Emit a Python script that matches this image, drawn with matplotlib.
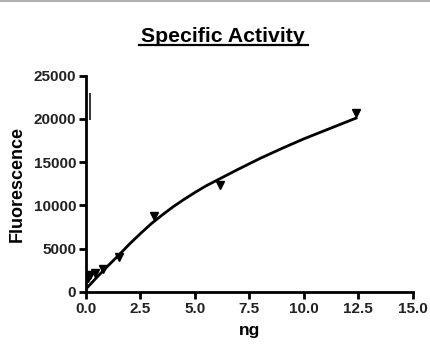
import matplotlib
matplotlib.use('Agg')
import matplotlib.pyplot as plt
from matplotlib.lines import Line2D
from matplotlib.patches import Rectangle

plt.rcParams['font.family'] = ['Liberation Sans', 'DejaVu Sans']
plt.rcParams['font.weight'] = 'bold'

# measured points (ng, fluorescence)
ng = [0.1, 0.2, 0.4, 0.78, 1.5, 3.1, 6.15, 12.4]
fluor = [1600, 2000, 2200, 2650, 4000, 8750, 12350, 20650]

# fitted curve as drawn in the reference
fit_ng = [0, 0.5, 1, 1.5, 2, 2.5, 3, 3.5, 4, 4.5, 5, 5.5, 6, 7, 8, 9, 10, 11, 12, 12.4]
fit_fluor = [350, 1700, 3000, 4250, 5550, 6750, 7900, 8900, 9850, 10700, 11500,
             12250, 12900, 14200, 15450, 16600, 17700, 18700, 19700, 20100]

# stray vertical bar near the y axis
bar_x = [0.2]
bar_lo = [19850]
bar_hi = [22950]

x_ticks = [0.0, 2.5, 5.0, 7.5, 10.0, 12.5, 15.0]
y_ticks = [0, 5000, 10000, 15000, 20000, 25000]

fig = plt.figure(figsize=(4.31, 3.58), dpi=100)
ax = fig.add_axes([0.1995, 0.1844, 0.758, 0.6041])

ax.plot(fit_ng, fit_fluor, color='black', lw=2, zorder=3)
ax.plot(ng, fluor, linestyle='none', marker='v', color='black',
        markersize=6, zorder=4)
ax.vlines(bar_x, bar_lo, bar_hi, color='black', lw=1.1)

ax.set_xlim(0, 15)
ax.set_ylim(0, 25000)
ax.set_xticks(x_ticks)
ax.set_xticklabels([f'{t:.1f}' for t in x_ticks])
ax.set_yticks(y_ticks)
ax.set_yticklabels([str(t) for t in y_ticks])

for side in ['top', 'right']:
    ax.spines[side].set_visible(False)
for side in ['left', 'bottom']:
    ax.spines[side].set_linewidth(2)
ax.tick_params(direction='out', length=5, width=2, labelsize=11,
               colors='black', pad=2)
for lbl in ax.get_xticklabels() + ax.get_yticklabels():
    lbl.set_fontweight('bold')
    lbl.set_color('#222222')

ax.set_xlabel('ng', fontsize=12.5, fontweight='bold', labelpad=5)
ax.set_ylabel('Fluorescence', fontsize=13, fontweight='bold', labelpad=6)

# underlined title
fig.text(0.517, 0.883, 'Specific Activity', ha='center', va='baseline',
         fontsize=15.3, fontweight='bold')
fig.add_artist(Line2D([0.322, 0.714], [0.873, 0.873], color='black', lw=1.6))

# grey strip along the top edge
fig.add_artist(Rectangle((0, 0.994), 1, 0.006, transform=fig.transFigure,
                         color='#b0b0b0', lw=0))

fig.savefig('out.png', dpi=100)
